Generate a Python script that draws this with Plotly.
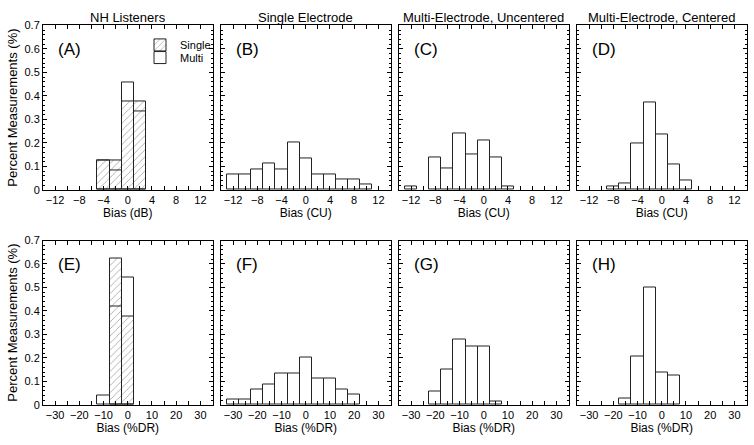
import plotly.graph_objects as go

# ---------------- data ----------------
col_titles = ["NH Listeners", "Single Electrode", "Multi-Electrode, Uncentered", "Multi-Electrode, Centered"]
panel_labels = ["(A)", "(B)", "(C)", "(D)", "(E)", "(F)", "(G)", "(H)"]
x_titles = ["Bias (dB)", "Bias (CU)", "Bias (CU)", "Bias (CU)",
            "Bias (%DR)", "Bias (%DR)", "Bias (%DR)", "Bias (%DR)"]
y_title = "Percent Measurements (%)"
y_tickvals = [0, 0.1, 0.2, 0.3, 0.4, 0.5, 0.6, 0.7]
y_ticktext = ["0", "0.1", "0.2", "0.3", "0.4", "0.5", "0.6", "0.7"]

# Panel A (NH listeners, dB)
a_single_x = [-4, -2, 0, 2]
a_single_y = [0.125, 0.125, 0.375, 0.375]
a_multi_x = [-4, -2, 0, 2]
a_multi_y = [0.125, 0.083, 0.458, 0.333]
# Panel B (single electrode, CU)
b_x = [-12, -10, -8, -6, -4, -2, 0, 2, 4, 6, 8, 10]
b_y = [0.067, 0.067, 0.089, 0.111, 0.089, 0.200, 0.133, 0.067, 0.067, 0.044, 0.044, 0.022]
# Panel C (multi-electrode uncentered, CU)
c_x = [-12, -8, -6, -4, -2, 0, 2, 4]
c_y = [0.015, 0.136, 0.091, 0.242, 0.152, 0.212, 0.136, 0.015]
# Panel D (multi-electrode centered, CU)
d_x = [-8, -6, -4, -2, 0, 2, 4]
d_y = [0.013, 0.027, 0.197, 0.373, 0.237, 0.107, 0.040]
# Panel E (NH listeners, %DR)
e_single_x = [-5, 0]
e_single_y = [0.625, 0.375]
e_multi_x = [-10, -5, 0]
e_multi_y = [0.042, 0.417, 0.542]
# Panel F
f_x = [-30, -25, -20, -15, -10, -5, 0, 5, 10, 15, 20]
f_y = [0.022, 0.022, 0.067, 0.089, 0.133, 0.133, 0.200, 0.111, 0.111, 0.067, 0.044]
# Panel G
g_x = [-20, -15, -10, -5, 0, 5]
g_y = [0.056, 0.153, 0.278, 0.250, 0.250, 0.014]
# Panel H
h_x = [-15, -10, -5, 0, 5]
h_y = [0.028, 0.208, 0.500, 0.139, 0.125]

# ---------------- layout geometry ----------------
W, H = 754, 445
cols_px = [(43, 212.5), (221, 390.5), (399, 568.5), (577, 746.5)]
rows_px = [(20, 189), (241, 410)]
FONT = "Liberation Sans"

fig = go.Figure()

hatch = dict(shape="/", fgcolor="#444444", size=5, solidity=0.16)

def add_single(xs, ys, axis_idx, width, legend=False):
    fig.add_trace(go.Bar(
        x=xs, y=ys, width=width, name="Single", showlegend=legend, legend="legend",
        marker=dict(color="white", line=dict(color="#222222", width=1), pattern=hatch),
        xaxis=f"x{axis_idx}", yaxis=f"y{axis_idx}"))

def add_multi(xs, ys, axis_idx, width, legend=False):
    fig.add_trace(go.Bar(
        x=xs, y=ys, width=width, name="Multi", showlegend=legend, legend="legend2",
        marker=dict(color="rgba(0,0,0,0)", line=dict(color="#222222", width=1)),
        xaxis=f"x{axis_idx}", yaxis=f"y{axis_idx}"))

add_single(a_single_x, a_single_y, 1, 2, legend=True)
add_multi(a_multi_x, a_multi_y, 1, 2, legend=True)
add_multi(b_x, b_y, 2, 2)
add_multi(c_x, c_y, 3, 2)
add_multi(d_x, d_y, 4, 2)
add_single(e_single_x, e_single_y, 5, 5)
add_multi(e_multi_x, e_multi_y, 5, 5)
add_multi(f_x, f_y, 6, 5)
add_multi(g_x, g_y, 7, 5)
add_multi(h_x, h_y, 8, 5)

leg_common = dict(xanchor="left", yanchor="middle", bgcolor="rgba(0,0,0,0)",
                  font=dict(size=11, family=FONT), itemwidth=30)
layout = dict(
    width=W, height=H, margin=dict(l=0, r=0, t=0, b=0),
    paper_bgcolor="white", plot_bgcolor="white",
    barmode="overlay", bargap=0,
    font=dict(family=FONT, size=11, color="black"),
    showlegend=True,
    legend=dict(x=140 / W, y=1 - 40 / H, **leg_common),
    legend2=dict(x=140 / W, y=1 - 53 / H, **leg_common),
)

annotations = []
for r in range(2):
    for c in range(4):
        i = r * 4 + c + 1
        x0, x1 = cols_px[c]
        yt, yb = rows_px[r]
        if r == 0:
            xr, dt, mdt = [-14, 14], 4, 2
        else:
            xr, dt, mdt = [-35, 35], 10, 5
        layout[f"xaxis{i}" if i > 1 else "xaxis"] = dict(
            domain=[x0 / W, x1 / W], anchor=f"y{i}", range=xr,
            tickmode="linear", tick0=0, dtick=dt,
            ticks="inside", ticklen=4, tickcolor="black",
            minor=dict(dtick=mdt, tick0=0, ticks="inside", ticklen=4, tickcolor="black"),
            showline=True, linecolor="black", linewidth=1, mirror="allticks",
            showgrid=False, zeroline=False,
            tickfont=dict(size=11, family=FONT),
            title=dict(text=x_titles[i - 1], font=dict(size=12, family=FONT), standoff=2),
        )
        layout[f"yaxis{i}" if i > 1 else "yaxis"] = dict(
            domain=[1 - yb / H, 1 - yt / H], anchor=f"x{i}", range=[0, 0.7],
            tickmode="array", tickvals=y_tickvals, ticktext=y_ticktext,
            showticklabels=(c == 0),
            ticks="inside", ticklen=4, tickcolor="black",
            minor=dict(dtick=0.02, tick0=0, ticks="inside", ticklen=2, tickcolor="black"),
            showline=True, linecolor="black", linewidth=1, mirror="allticks",
            showgrid=False, zeroline=False,
            tickfont=dict(size=11, family=FONT),
        )
        annotations.append(dict(
            text=panel_labels[i - 1], x=(x0 + 13) / W, y=1 - (yt + 13) / H,
            xref="paper", yref="paper", xanchor="left", yanchor="top",
            showarrow=False, font=dict(size=17, family=FONT)))
        if r == 0:
            annotations.append(dict(
                text=col_titles[c], x=(x0 + x1) / 2 / W, y=1 - 12 / H,
                xref="paper", yref="paper", xanchor="center", yanchor="middle",
                showarrow=False, font=dict(size=13, family=FONT)))
    annotations.append(dict(
        text=y_title, x=13 / W, y=1 - (rows_px[r][0] + rows_px[r][1]) / 2 / H,
        xref="paper", yref="paper", xanchor="center", yanchor="middle",
        textangle=-90, showarrow=False, font=dict(size=13, family=FONT)))

layout["annotations"] = annotations
fig.update_layout(**layout)
fig.write_html("out.html", config={"displayModeBar": False},
               post_script="document.body.style.margin='0';document.body.style.padding='0';")
